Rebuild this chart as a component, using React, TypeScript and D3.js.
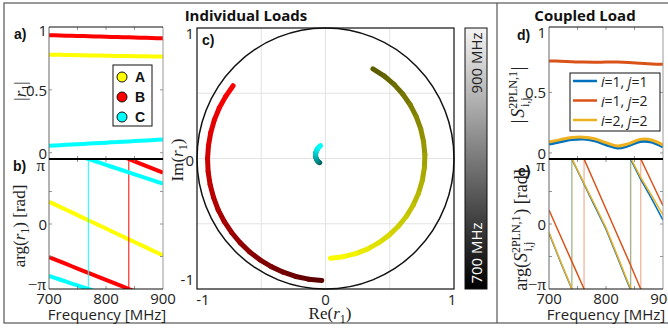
import React from 'react';
import * as d3 from 'd3';

// ---------- data: individual loads ----------
const FREQ = [700, 710, 720, 730, 740, 750, 760, 770, 780, 790, 800, 810, 820, 830, 840, 850, 860, 870, 880, 890, 900];
const LOAD_NAMES = ['A', 'B', 'C'];
const LOAD_COLORS = ['#ffff00', '#ff0000', '#00ffff'];
const MAG_A = [0.780, 0.780, 0.779, 0.778, 0.777, 0.776, 0.775, 0.774, 0.774, 0.773, 0.772, 0.771, 0.770, 0.770, 0.769, 0.768, 0.767, 0.767, 0.766, 0.765, 0.765];
const MAG_B = [0.935, 0.934, 0.933, 0.931, 0.930, 0.929, 0.928, 0.926, 0.925, 0.924, 0.923, 0.921, 0.920, 0.919, 0.918, 0.916, 0.915, 0.914, 0.913, 0.911, 0.910];
const MAG_C = [0.055, 0.058, 0.060, 0.063, 0.065, 0.068, 0.070, 0.073, 0.075, 0.078, 0.080, 0.083, 0.085, 0.088, 0.090, 0.093, 0.095, 0.098, 0.100, 0.103, 0.105];
// phases in units of pi (unwrapped)
const PHASE_A = [0.343, 0.302, 0.260, 0.219, 0.178, 0.136, 0.095, 0.054, 0.012, -0.029, -0.070, -0.112, -0.153, -0.194, -0.236, -0.277, -0.318, -0.360, -0.401, -0.442, -0.484];
const PHASE_B = [-0.510, -0.545, -0.580, -0.615, -0.650, -0.685, -0.720, -0.755, -0.790, -0.825, -0.860, -0.895, -0.930, -0.965, -1.000, -1.035, -1.070, -1.105, -1.140, -1.175, -1.210];
const PHASE_C = [-0.800, -0.829, -0.858, -0.887, -0.916, -0.945, -0.974, -1.003, -1.032, -1.061, -1.090, -1.119, -1.148, -1.177, -1.206, -1.235, -1.264, -1.293, -1.322, -1.351, -1.380];
const LOAD_MAGS = [MAG_A, MAG_B, MAG_C];
const LOAD_PHASES = [PHASE_A, PHASE_B, PHASE_C];

// ---------- data: coupled load ----------
const FREQ_S = [700, 720, 740, 760, 780, 800, 820, 840, 860, 880, 900];
const S_LABELS = [['1', '1'], ['1', '2'], ['2', '2']];
const S_COLORS = ['#0072BD', '#D95319', '#EDB120'];
const MAG_S11 = [0.073, 0.093, 0.110, 0.115, 0.100, 0.068, 0.040, 0.060, 0.095, 0.090, 0.049];
const MAG_S12 = [0.760, 0.757, 0.753, 0.750, 0.749, 0.750, 0.750, 0.747, 0.741, 0.735, 0.732];
const MAG_S22 = [0.090, 0.110, 0.127, 0.130, 0.117, 0.085, 0.057, 0.077, 0.112, 0.107, 0.065];
const PHASE_S11 = [-0.14, -0.58, -1.00, -1.36, -1.72, -2.08, -2.51, -2.95, -3.30, -3.61, -3.94];
const PHASE_S12 = [0.215, -0.18, -0.575, -0.97, -1.37, -1.77, -2.17, -2.57, -2.98, -3.35, -3.72];
const PHASE_S22 = [-0.13, -0.57, -0.99, -1.35, -1.70, -2.06, -2.49, -2.93, -3.27, -3.56, -3.86];
const S_MAGS = [MAG_S11, MAG_S12, MAG_S22];
const S_PHASES = [PHASE_S11, PHASE_S12, PHASE_S22];

// ---------- ticks ----------
const FREQ_TICKS = [700, 800, 900];
const FREQ_MINOR = [750, 800, 850];
const MAG_TICKS = [0, 0.5, 1];
const MAG_TICK_LABELS = ['0', '0.5', '1'];
const PHASE_TICKS = [-1, 0, 1];
const PHASE_TICK_LABELS = ['\u2212\u03c0', '0', '\u03c0'];
const PHASE_MINOR = [-0.5, 0, 0.5];
const SMITH_TICKS = [-1, 0, 1];
const SMITH_GRID = [-0.5, 0, 0.5];
const CBAR_LABELS = ['700 MHz', '900 MHz'];

const SANS = '"Open Sans", "Noto Sans", sans-serif';
const ARIAL = '"Liberation Sans", Arial, sans-serif';
const SERIF = '"Liberation Serif", "DejaVu Serif", serif';

function crossings(freqs: number[], ph: number[], levels: number[]) {
  const out: number[] = [];
  levels.forEach((L) => {
    for (let i = 0; i < ph.length - 1; i++) {
      const a = ph[i] - L, b = ph[i + 1] - L;
      if (a === 0) { out.push(freqs[i]); break; }
      if (a > 0 && b < 0) { out.push(freqs[i] + (a / (a - b)) * (freqs[i + 1] - freqs[i])); break; }
    }
  });
  return out;
}

function Ticks({ x, y, xt, yt, x0, x1, y0, y1 }: any) {
  const L = 3;
  return (
    <g stroke="#777" strokeWidth={0.8}>
      {xt.map((t: number) => (
        <g key={'x' + t}>
          <line x1={x(t)} x2={x(t)} y1={y0} y2={y0 - L} />
          <line x1={x(t)} x2={x(t)} y1={y1} y2={y1 + L} />
        </g>
      ))}
      {yt.map((t: number) => (
        <g key={'y' + t}>
          <line x1={x0} x2={x0 + L} y1={y(t)} y2={y(t)} />
          <line x1={x1} x2={x1 - L} y1={y(t)} y2={y(t)} />
        </g>
      ))}
    </g>
  );
}

function Box({ x0, x1, y0, y1 }: any) {
  return (
    <g>
      <line x1={x0} x2={x0} y1={y0} y2={y1} stroke="#666" strokeWidth={1} />
      <line x1={x1} x2={x1} y1={y0} y2={y1} stroke="#999" strokeWidth={1} />
      <line x1={x0} x2={x1} y1={y0} y2={y0} stroke="#111" strokeWidth={1.2} />
      <line x1={x0} x2={x1} y1={y1} y2={y1} stroke="#111" strokeWidth={1.2} />
    </g>
  );
}

export default function App() {
  const xA = d3.scaleLinear().domain([700, 900]).range([49, 163]);
  const yA = d3.scaleLinear().domain([-0.05, 1]).range([159, 27]);
  const yB = d3.scaleLinear().domain([-1, 1]).range([289, 159]);
  const xD = d3.scaleLinear().domain([700, 900]).range([549, 663]);
  const yD = d3.scaleLinear().domain([-0.05, 1.04]).range([159, 27]);
  const yE = d3.scaleLinear().domain([-1, 1]).range([289, 159]);
  const xC = d3.scaleLinear().domain([-1, 1]).range([197, 454]);
  const yC = d3.scaleLinear().domain([-1, 1]).range([289, 28]);
  const bright = d3.scaleLinear().domain([700, 900]).range([0.35, 1]);

  const lineA = (vals: number[]) =>
    d3.line<number>().x((_, i) => xA(FREQ[i])).y((v) => yA(v))(vals) || '';
  const lineB = (vals: number[]) =>
    d3.line<number>().x((_, i) => xA(FREQ[i])).y((v) => yB(v))(vals) || '';
  const lineD = (vals: number[]) =>
    d3.line<number>().curve(d3.curveCatmullRom).x((_, i) => xD(FREQ_S[i])).y((v) => yD(v))(vals) || '';
  const lineE = (vals: number[]) =>
    d3.line<number>().x((_, i) => xD(FREQ_S[i])).y((v) => yE(v))(vals) || '';

  const tickLabel = (txt: string, x: number, y: number, anchor = 'middle', font = SANS, size = 15, fill = '#222') => (
    <text key={txt + x + y} x={x} y={y} textAnchor={anchor} dominantBaseline="central" fontFamily={font} fontSize={size} fill={fill}>{txt}</text>
  );

  return (
    <svg width={668} height={328} style={{ position: 'absolute', left: 0, top: 0, background: '#fff' }}>
      <defs>
        <clipPath id="clipA"><rect x={49} y={27} width={114} height={132} /></clipPath>
        <clipPath id="clipB"><rect x={49} y={159} width={114} height={130} /></clipPath>
        <clipPath id="clipD"><rect x={549} y={27} width={114} height={132} /></clipPath>
        <clipPath id="clipE"><rect x={549} y={159} width={114} height={130} /></clipPath>
        <linearGradient id="cbar" x1="0" y1="1" x2="0" y2="0">
          <stop offset="0" stopColor="#000" />
          <stop offset="1" stopColor="#f4f4f4" />
        </linearGradient>
      </defs>

      {/* frame */}
      <rect x={4} y={3} width={700} height={320} fill="none" stroke="#555" strokeWidth={1.2} />
      <line x1={497} x2={497} y1={3} y2={323} stroke="#555" strokeWidth={1.2} />

      {/* titles */}
      <text x={246} y={15} textAnchor="middle" dominantBaseline="central" fontFamily={SANS} fontWeight="bold" fontSize={15} fill="#111">Individual Loads</text>
      <text x={585} y={15} textAnchor="middle" dominantBaseline="central" fontFamily={SANS} fontWeight="bold" fontSize={15} fill="#111">Coupled Load</text>

      {/* ---------- panel a ---------- */}
      <g clipPath="url(#clipA)">
        {LOAD_MAGS.map((m, k) => (
          <path key={k} d={lineA(m)} fill="none" stroke={LOAD_COLORS[k]} strokeWidth={4} />
        ))}
      </g>
      <Ticks x={xA} y={yA} xt={FREQ_MINOR} yt={[0, 0.5]} x0={49} x1={163} y0={159} y1={27} />
      <Box x0={49} x1={163} y0={27} y1={159} />
      {MAG_TICKS.map((t, i) => tickLabel(MAG_TICK_LABELS[i], 47, i === 2 ? 30 : yA(t), 'end'))}
      <rect x={113} y={65} width={39} height={61} fill="#fff" stroke="#111" strokeWidth={1} />
      {LOAD_NAMES.map((n, k) => (
        <g key={n}>
          <circle cx={122} cy={77 + k * 20} r={5} fill={LOAD_COLORS[k]} stroke="#111" strokeWidth={1} />
          <text x={135} y={77 + k * 20} dominantBaseline="central" fontFamily={ARIAL} fontWeight="bold" fontSize={14} fill="#111">{n}</text>
        </g>
      ))}
      <text x={14} y={39} fontFamily={ARIAL} fontWeight="bold" fontSize={14} fill="#111">a)</text>
      <g transform="translate(20,91) rotate(-90)">
        <text textAnchor="middle" y={6} fontFamily={SERIF} fontSize={17} fill="#222">
          |<tspan fontStyle="italic">r</tspan><tspan fontSize={12} dy={4}>1</tspan><tspan dy={-4}>|</tspan>
        </text>
      </g>

      {/* ---------- panel b ---------- */}
      <g clipPath="url(#clipB)">
        {LOAD_PHASES.map((p, k) => (
          <g key={k}>
            {[0, 2].map((s) => (
              <path key={s} d={lineB(p.map((v) => v + s))} fill="none" stroke={LOAD_COLORS[k]} strokeWidth={4} />
            ))}
            {crossings(FREQ, p, [-1]).map((f, j) => (
              <line key={j} x1={xA(f)} x2={xA(f)} y1={yB(-1)} y2={yB(1)} stroke={LOAD_COLORS[k]} strokeWidth={1} />
            ))}
          </g>
        ))}
      </g>
      <Ticks x={xA} y={yB} xt={FREQ_MINOR} yt={PHASE_MINOR} x0={49} x1={163} y0={289} y1={159} />
      <Box x0={49} x1={163} y0={159} y1={289} />
      <line x1={49} x2={163} y1={159} y2={159} stroke="#000" strokeWidth={1.8} />
      {tickLabel(PHASE_TICK_LABELS[2], 45, 165, 'end', SERIF, 17)}
      {tickLabel(PHASE_TICK_LABELS[1], 47, yB(PHASE_TICKS[1]), 'end')}
      {tickLabel(PHASE_TICK_LABELS[0], 46, 284, 'end', SERIF, 17)}
      {FREQ_TICKS.map((t) => tickLabel(String(t), xA(t), 298))}
      <text x={107} y={314} textAnchor="middle" dominantBaseline="central" fontFamily={SANS} fontSize={15} fill="#222">Frequency [MHz]</text>
      <text x={13} y={171} fontFamily={ARIAL} fontWeight="bold" fontSize={14} fill="#111">b)</text>
      <g transform="translate(19,226) rotate(-90)">
        <text textAnchor="middle" y={6} fontFamily={SERIF} fontSize={17} fill="#222">
          arg(<tspan fontStyle="italic">r</tspan><tspan fontSize={12} dy={4}>1</tspan><tspan dy={-4}>) [rad]</tspan>
        </text>
      </g>

      {/* ---------- panel c ---------- */}
      {SMITH_GRID.map((g) => (
        <g key={g} stroke="#e3e3e3" strokeWidth={1}>
          <line x1={xC(g)} x2={xC(g)} y1={yC(-1)} y2={yC(1)} />
          <line x1={xC(-1)} x2={xC(1)} y1={yC(g)} y2={yC(g)} />
        </g>
      ))}
      <ellipse cx={xC(0)} cy={yC(0)} rx={xC(1) - xC(0)} ry={yC(-1) - yC(0)} fill="none" stroke="#111" strokeWidth={1.5} />
      {LOAD_MAGS.map((m, k) => {
        const p = LOAD_PHASES[k];
        const base = d3.rgb(LOAD_COLORS[k]);
        const segs = [];
        for (let i = 0; i < FREQ.length - 1; i++) {
          const b = bright((FREQ[i] + FREQ[i + 1]) / 2);
          const col = d3.rgb(base.r * b, base.g * b, base.b * b).toString();
          const re0 = m[i] * Math.cos(p[i] * Math.PI), im0 = m[i] * Math.sin(p[i] * Math.PI);
          const re1 = m[i + 1] * Math.cos(p[i + 1] * Math.PI), im1 = m[i + 1] * Math.sin(p[i + 1] * Math.PI);
          segs.push(
            <line key={i} x1={xC(re0)} y1={yC(im0)} x2={xC(re1)} y2={yC(im1)} stroke={col} strokeWidth={5} strokeLinecap="round" />
          );
        }
        return <g key={k}>{segs}</g>;
      })}
      <rect x={197} y={28} width={257} height={261} fill="none" stroke="#111" strokeWidth={1.2} />
      {tickLabel('-1', 203, 299)}
      {tickLabel('0', xC(SMITH_TICKS[1]), 299)}
      {tickLabel('1', 452, 299)}
      {tickLabel('1', 194, 33, 'end')}
      {tickLabel('0', 194, yC(0) + 1, 'end')}
      {tickLabel('-1', 194, 279, 'end')}
      <text x={330} y={319} textAnchor="middle" fontFamily={SERIF} fontSize={17} fill="#222">
        Re(<tspan fontStyle="italic">r</tspan><tspan fontSize={12} dy={4}>1</tspan><tspan dy={-4}>)</tspan>
      </text>
      <g transform="translate(177,160) rotate(-90)">
        <text textAnchor="middle" y={6} fontFamily={SERIF} fontSize={17} fill="#222">
          Im(<tspan fontStyle="italic">r</tspan><tspan fontSize={12} dy={4}>1</tspan><tspan dy={-4}>)</tspan>
        </text>
      </g>
      <text x={202} y={45} fontFamily={ARIAL} fontWeight="bold" fontSize={14} fill="#111">c)</text>

      {/* colorbar */}
      <rect x={465} y={28} width={22} height={261} fill="url(#cbar)" stroke="#111" strokeWidth={1} />
      <g transform="translate(476,63) rotate(-90)">
        <text textAnchor="middle" dominantBaseline="central" fontFamily={SANS} fontSize={15} fill="#222">{CBAR_LABELS[1]}</text>
      </g>
      <g transform="translate(476,253) rotate(-90)">
        <text textAnchor="middle" dominantBaseline="central" fontFamily={SANS} fontSize={15} fill="#fff">{CBAR_LABELS[0]}</text>
      </g>

      {/* ---------- panel d ---------- */}
      <g clipPath="url(#clipD)">
        {S_MAGS.map((m, k) => (
          <path key={k} d={lineD(m)} fill="none" stroke={S_COLORS[k]} strokeWidth={3} />
        ))}
      </g>
      <Ticks x={xD} y={yD} xt={FREQ_MINOR} yt={[0, 0.5]} x0={549} x1={663} y0={159} y1={27} />
      <Box x0={549} x1={663} y0={27} y1={159} />
      {MAG_TICKS.map((t, i) => tickLabel(MAG_TICK_LABELS[i], 546, yD(t), 'end'))}
      <rect x={570} y={73} width={90} height={58} fill="#fff" stroke="#111" strokeWidth={1} />
      {S_LABELS.map((lab, k) => (
        <g key={k}>
          <line x1={573} x2={597} y1={81 + k * 19.5} y2={81 + k * 19.5} stroke={S_COLORS[k]} strokeWidth={2.5} />
          <text x={601} y={81 + k * 19.5} dominantBaseline="central" fontFamily={SANS} fontSize={14} fill="#222">
            <tspan fontStyle="italic">i</tspan>={lab[0]}, <tspan fontStyle="italic">j</tspan>={lab[1]}
          </text>
        </g>
      ))}
      <text x={517} y={40} fontFamily={ARIAL} fontWeight="bold" fontSize={14} fill="#111">d)</text>
      <g transform="translate(518,95) rotate(-90)">
        <text textAnchor="middle" y={6} fontFamily={SERIF} fontSize={18} fill="#222">
          |<tspan dx={2} fontStyle="italic">S</tspan><tspan fontSize={12} dy={-7}>2PLN,1</tspan><tspan fontSize={12} dx={-36} dy={12}>i,j</tspan><tspan dx={27} dy={-5}>|</tspan>
        </text>
      </g>

      {/* ---------- panel e ---------- */}
      <g clipPath="url(#clipE)">
        {S_PHASES.map((p, k) => (
          <g key={k}>
            {crossings(FREQ_S, p, [-1, -3]).map((f, j) => (
              <line key={j} x1={xD(f)} x2={xD(f)} y1={yE(-1)} y2={yE(1)} stroke={S_COLORS[k]} strokeOpacity={0.55} strokeWidth={1} />
            ))}
          </g>
        ))}
        {S_PHASES.map((p, k) => (
          <g key={k}>
            {[0, 2, 4].map((s) => (
              <path key={s} d={lineE(p.map((v) => v + s))} fill="none" stroke={S_COLORS[k]} strokeWidth={1.5} />
            ))}
          </g>
        ))}
      </g>
      <Ticks x={xD} y={yE} xt={FREQ_MINOR} yt={PHASE_MINOR} x0={549} x1={663} y0={289} y1={159} />
      <Box x0={549} x1={663} y0={159} y1={289} />
      <line x1={549} x2={663} y1={159} y2={159} stroke="#000" strokeWidth={1.8} />
      {tickLabel(PHASE_TICK_LABELS[2], 545, 165, 'end', SERIF, 17)}
      {tickLabel(PHASE_TICK_LABELS[1], 546, yE(PHASE_TICKS[1]), 'end')}
      {tickLabel(PHASE_TICK_LABELS[0], 546, 284, 'end', SERIF, 17)}
      {FREQ_TICKS.map((t) => tickLabel(String(t), xD(t), 298))}
      <text x={606} y={314} textAnchor="middle" dominantBaseline="central" fontFamily={SANS} fontSize={15} fill="#222">Frequency [MHz]</text>
      <text x={518} y={176} fontFamily={ARIAL} fontWeight="bold" fontSize={14} fill="#111">e)</text>
      <g transform="translate(521,230) rotate(-90)">
        <text textAnchor="middle" y={6} fontFamily={SERIF} fontSize={18} fill="#222">
          arg(<tspan fontStyle="italic">S</tspan><tspan fontSize={12} dy={-7}>2PLN,1</tspan><tspan fontSize={12} dx={-36} dy={12}>i,j</tspan><tspan dx={27} dy={-5}>) [rad]</tspan>
        </text>
      </g>
    </svg>
  );
}
